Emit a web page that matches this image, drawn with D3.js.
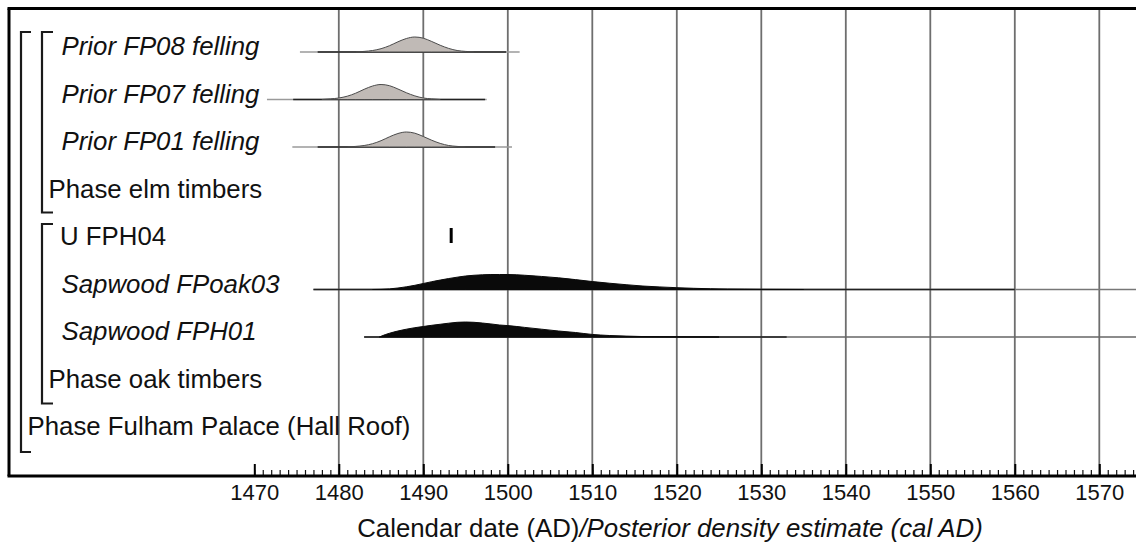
<!DOCTYPE html>
<html>
<head>
<meta charset="utf-8">
<script src="https://cdn.jsdelivr.net/npm/d3@7"></script>
<style>
  html, body { margin: 0; padding: 0; background: #fff; }
  svg { display: block; font-family: "Liberation Sans", Arial, Helvetica, sans-serif; }
</style>
</head>
<body>
<svg id="chart" width="1136" height="546"></svg>
<script>
// ---------------- DATA ----------------
const rowLabels = [
  "Prior FP08 felling",
  "Prior FP07 felling",
  "Prior FP01 felling",
  "Phase elm timbers",
  "U FPH04",
  "Sapwood FPoak03",
  "Sapwood FPH01",
  "Phase oak timbers",
  "Phase Fulham Palace (Hall Roof)"
];
const rowKinds = ["prior", "prior", "prior", "phase", "date", "sapwood", "sapwood", "phase", "outer"];

const majorTicks = [1470, 1480, 1490, 1500, 1510, 1520, 1530, 1540, 1550, 1560, 1570];
const gridYears  = [1480, 1490, 1500, 1510, 1520, 1530, 1540, 1550, 1560, 1570];
const minorTicks = d3.range(1470, 1575, 1);

// posterior densities: [calendar year, relative density]
const fp08 = [[1482,0],[1483,0.04],[1484,0.1],[1485,0.22],[1486,0.42],[1487,0.68],[1488,0.9],[1489,1.0],
              [1490,0.92],[1491,0.7],[1492,0.45],[1493,0.24],[1494,0.1],[1495,0.04],[1496,0]];
const fp07 = [[1478,0],[1479,0.04],[1480,0.1],[1481,0.22],[1482,0.42],[1483,0.68],[1484,0.9],[1485,1.0],
              [1486,0.92],[1487,0.7],[1488,0.45],[1489,0.24],[1490,0.1],[1491,0.04],[1492,0]];
const fp01 = [[1481,0],[1482,0.04],[1483,0.1],[1484,0.22],[1485,0.42],[1486,0.68],[1487,0.9],[1488,1.0],
              [1489,0.92],[1490,0.7],[1491,0.45],[1492,0.24],[1493,0.1],[1494,0.04],[1495,0]];
const fpoak03 = [[1484,0],[1485,0.01],[1486,0.04],[1487,0.1],[1488,0.18],[1489,0.28],[1490,0.4],[1491,0.52],
                 [1492,0.63],[1493,0.73],[1494,0.82],[1495,0.9],[1496,0.95],[1497,0.98],[1498,1.0],[1499,1.0],
                 [1500,1.0],[1502,0.95],[1504,0.87],[1506,0.78],[1508,0.66],[1510,0.53],[1512,0.42],
                 [1514,0.32],[1516,0.23],[1518,0.17],[1520,0.12],[1522,0.08],[1524,0.05],[1526,0.03],
                 [1528,0.02],[1530,0.01],[1535,0]];
const fph01 = [[1484.8,0],[1485,0.05],[1486,0.25],[1487,0.4],[1488,0.52],[1489,0.62],[1490,0.7],[1491,0.78],
               [1492,0.85],[1493,0.92],[1494,0.98],[1495,1.0],[1496,0.98],[1497,0.93],[1498,0.87],[1499,0.8],
               [1500,0.76],[1502,0.64],[1504,0.52],[1506,0.4],[1508,0.3],[1510,0.17],[1512,0.1],
               [1514,0.06],[1516,0.03],[1518,0.02],[1520,0.01],[1525,0]];
const fph04Date = 1493.3;

// extent lines: [start, dark start, dark end, end]
const fp08Range    = [1475.4, 1477.5, 1499.8, 1501.4];
const fp07Range    = [1471.5, 1474.6, 1497.3, 1497.5];
const fp01Range    = [1474.5, 1477.5, 1498.5, 1500.5];
const fpoak03Range = [1477.0, 1477.0, 1560.0, 1575.0];
const fph01Range   = [1483.0, 1483.0, 1533.0, 1575.0];

const series = [
  { row: 0, dens: fp08, range: fp08Range, fill: "#c0bab6", stroke: "#4a4a4a", tail: "#9a9a9a" },
  { row: 1, dens: fp07, range: fp07Range, fill: "#c0bab6", stroke: "#4a4a4a", tail: "#9a9a9a" },
  { row: 2, dens: fp01, range: fp01Range, fill: "#c0bab6", stroke: "#4a4a4a", tail: "#9a9a9a" },
  { row: 5, dens: fpoak03, range: fpoak03Range, fill: "#0a0a0a", stroke: "#0a0a0a", tail: "#777" },
  { row: 6, dens: fph01, range: fph01Range, fill: "#0a0a0a", stroke: "#0a0a0a", tail: "#666" }
];

// ---------------- LAYOUT ----------------
const W = 1136, H = 546;
const frameL = 9, frameT = 8.5, axisY = 476;
const svg = d3.select("#chart");

const x = d3.scaleLinear().domain([1470, 1570]).range([254.3, 1099.3]);
const y = d3.scalePoint().domain(d3.range(rowLabels.length)).range([52, 52 + 8 * 47.5]);
const peakH = 15;

// grid lines
svg.append("g").selectAll("line").data(gridYears).join("line")
  .attr("x1", d => x(d)).attr("x2", d => x(d))
  .attr("y1", frameT).attr("y2", axisY)
  .attr("stroke", "#6e6e6e").attr("stroke-width", 1.8);

// frame: top and left
svg.append("line").attr("x1", frameL - 1.5).attr("x2", W).attr("y1", frameT).attr("y2", frameT)
  .attr("stroke", "#000").attr("stroke-width", 3);
svg.append("line").attr("x1", frameL).attr("x2", frameL).attr("y1", frameT).attr("y2", axisY)
  .attr("stroke", "#000").attr("stroke-width", 3);

// distributions
const area = d3.area()
  .x(d => x(d[0]))
  .curve(d3.curveMonotoneX);

series.forEach(s => {
  const y0 = y(s.row);
  const g = svg.append("g");
  const r = s.range;
  g.append("line").attr("x1", x(r[0])).attr("x2", x(r[3])).attr("y1", y0).attr("y2", y0)
    .attr("stroke", s.tail).attr("stroke-width", 1.5);
  g.append("line").attr("x1", x(r[1])).attr("x2", x(r[2])).attr("y1", y0).attr("y2", y0)
    .attr("stroke", "#222").attr("stroke-width", 1.5);
  g.append("path").datum(s.dens)
    .attr("d", area.y0(y0).y1(d => y0 - d[1] * peakH))
    .attr("fill", s.fill).attr("stroke", s.stroke).attr("stroke-width", 1);
});

// U FPH04 date marker
svg.append("line")
  .attr("x1", x(fph04Date)).attr("x2", x(fph04Date))
  .attr("y1", y(4) - 14).attr("y2", y(4) + 1)
  .attr("stroke", "#000").attr("stroke-width", 3);

// row labels
const labelX = { prior: 61.5, sapwood: 61.5, date: 60, phase: 48.5, outer: 27.5 };
svg.append("g").selectAll("text").data(rowLabels).join("text")
  .attr("x", (d, i) => labelX[rowKinds[i]])
  .attr("y", (d, i) => y(i) + 3)
  .attr("font-size", 25.8)
  .attr("font-style", (d, i) => (rowKinds[i] === "prior" || rowKinds[i] === "sapwood") ? "italic" : "normal")
  .attr("fill", "#111")
  .text(d => d);

// brackets
function bracket(bx, top, bottom, arm) {
  svg.append("path")
    .attr("d", `M${bx + arm},${top}H${bx}V${bottom}H${bx + arm}`)
    .attr("fill", "none").attr("stroke", "#1a1a1a").attr("stroke-width", 2.2);
}
bracket(21, y(0) - 20, y(8) + 20, 10);
bracket(42, y(0) - 20, y(3) + 18, 11);
bracket(42, y(4) - 18, y(7) + 19, 11);

// axis
const axisG = svg.append("g").attr("transform", `translate(0,${axisY})`);
axisG.call(d3.axisBottom(x).tickValues(minorTicks).tickSize(-6).tickFormat(""))
  .call(g => g.select(".domain").remove())
  .call(g => g.selectAll(".tick line").attr("stroke", "#111").attr("stroke-width", 1.2));
const majorG = svg.append("g").attr("transform", `translate(0,${axisY})`);
majorG.call(d3.axisBottom(x).tickValues(majorTicks).tickSize(-12).tickPadding(8).tickFormat(d3.format("d")))
  .call(g => g.select(".domain").remove())
  .call(g => g.selectAll(".tick line").attr("stroke", "#000").attr("stroke-width", 2))
  .call(g => g.selectAll(".tick text").attr("font-size", 22).attr("fill", "#111")
    .attr("font-family", "'Liberation Sans', Arial, sans-serif"));
svg.append("line").attr("x1", frameL - 1.5).attr("x2", W).attr("y1", axisY).attr("y2", axisY)
  .attr("stroke", "#000").attr("stroke-width", 3);

// axis title
const title = svg.append("text")
  .attr("x", 670).attr("y", 537).attr("text-anchor", "middle")
  .attr("font-size", 25.8).attr("fill", "#111");
title.append("tspan").text("Calendar date (AD)");
title.append("tspan").attr("font-style", "italic").text("/Posterior density estimate (cal AD)");
</script>
</body>
</html>
